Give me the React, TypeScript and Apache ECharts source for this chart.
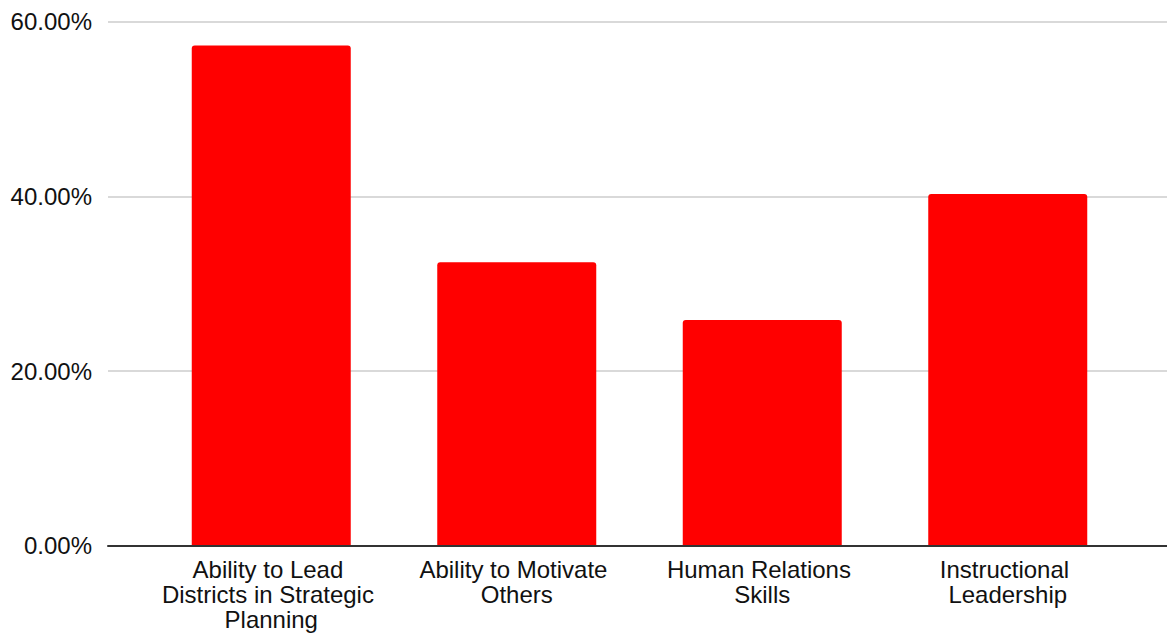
import React, { useEffect, useRef } from "react";
import * as echarts from "echarts";

// Share of respondents per leadership skill
const categories = [
  "Ability to Lead Districts in Strategic Planning",
  "Ability to Motivate Others",
  "Human Relations Skills",
  "Instructional Leadership",
];
const shares = [0.5727, 0.3246, 0.2585, 0.4027];
const yTicks = { min: 0, max: 0.6, interval: 0.2 };

const FONT = '"Liberation Sans", Arial, Helvetica, sans-serif';

export default function App() {
  const ref = useRef<HTMLDivElement | null>(null);

  useEffect(() => {
    if (!ref.current) return;
    const chart = echarts.init(ref.current, undefined, { renderer: "svg" });
    const top = 21.7;
    const height = 524;
    chart.setOption({
      animation: false,
      backgroundColor: "#ffffff",
      grid: [
        // full-width frame: y labels, gridlines and baseline
        { left: 108, right: 0, top, height, containLabel: false },
        // plotting band for the bars
        { left: 148.5, right: 36.5, top, height, containLabel: false },
      ],
      xAxis: [
        {
          type: "value",
          gridIndex: 0,
          min: 0,
          max: 1,
          z: 5,
          axisLine: { show: true, lineStyle: { color: "#333333", width: 2 } },
          axisTick: { show: false },
          axisLabel: { show: false },
          splitLine: { show: false },
        },
        {
          type: "category",
          gridIndex: 1,
          data: categories,
          axisLine: { show: false },
          axisTick: { show: false },
          axisLabel: {
            interval: 0,
            margin: 11,
            color: "#111111",
            fontFamily: FONT,
            fontSize: 24,
            lineHeight: 25,
            width: 235,
            overflow: "break",
            align: "center",
          },
        },
      ],
      yAxis: [
        {
          type: "value",
          gridIndex: 0,
          min: yTicks.min,
          max: yTicks.max,
          interval: yTicks.interval,
          axisLine: { show: false },
          axisTick: { show: false },
          axisLabel: {
            margin: 16,
            color: "#111111",
            fontFamily: FONT,
            fontSize: 24,
            formatter: (v: number) => (v * 100).toFixed(2) + "%",
          },
          splitLine: { show: true, lineStyle: { color: "#cccccc", width: 1.5 } },
        },
        {
          type: "value",
          gridIndex: 1,
          min: yTicks.min,
          max: yTicks.max,
          interval: yTicks.interval,
          show: false,
          splitLine: { show: false },
        },
      ],
      series: [
        {
          type: "bar",
          xAxisIndex: 1,
          yAxisIndex: 1,
          data: shares,
          barWidth: 159,
          itemStyle: { color: "#ff0000", borderRadius: [3, 3, 0, 0] },
        },
      ],
    });
    return () => chart.dispose();
  }, []);

  return (
    <div
      ref={ref}
      style={{ position: "fixed", left: 0, top: 0, width: 1167, height: 634 }}
    />
  );
}
